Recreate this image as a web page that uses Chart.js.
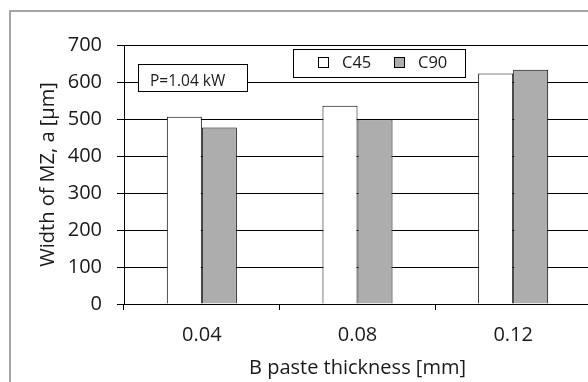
<!DOCTYPE html>
<html>
<head>
<meta charset="utf-8">
<script src="https://cdn.jsdelivr.net/npm/chart.js"></script>
<style>
  html, body { margin: 0; padding: 0; background: #fff; }
  #wrap { width: 588px; height: 382px; overflow: hidden; position: relative; }
  canvas { display: block; }
</style>
</head>
<body>
<div id="wrap">
  <canvas id="mzChart" width="600" height="382" style="width:600px;height:382px"></canvas>
</div>
<script>
const thickness = ['0.04', '0.08', '0.12'];
const widthC45 = [506, 536, 623];
const widthC90 = [477, 499, 633];
const seriesNames = ['C45', 'C90'];
const powerNote = 'P=1.04 kW';

const FONT = "'Open Sans', sans-serif";
const TEXT = '#1a1a1a';

// outer frame, legend box and the power note
const decorations = {
  id: 'decorations',
  afterDraw(chart) {
    const ctx = chart.ctx;
    ctx.save();
    ctx.strokeStyle = '#888';
    ctx.lineWidth = 1.5;
    ctx.beginPath();
    ctx.moveTo(10, 390);
    ctx.lineTo(10, 11);
    ctx.lineTo(610, 11);
    ctx.stroke();

    ctx.fillStyle = '#fff';
    ctx.strokeStyle = '#000';
    ctx.lineWidth = 1;
    // note box
    ctx.fillRect(138, 64, 109, 27);
    ctx.strokeRect(138.5, 64.5, 109, 27);
    ctx.fillStyle = TEXT;
    ctx.font = '15.5px ' + FONT;
    ctx.textBaseline = 'alphabetic';
    ctx.fillText(powerNote, 150, 86);

    // legend box
    ctx.fillStyle = '#fff';
    ctx.fillRect(293, 49, 172, 28);
    ctx.strokeRect(293.5, 49.5, 172, 28);
    const items = chart.data.datasets;
    const xs = [318, 394];
    items.forEach((ds, i) => {
      ctx.fillStyle = ds.backgroundColor;
      ctx.fillRect(xs[i] + 0.5, 57.5, 10, 10);
      ctx.strokeStyle = '#000';
      ctx.strokeRect(xs[i] + 0.5, 57.5, 10, 10);
      ctx.fillStyle = TEXT;
      ctx.font = '16.5px ' + FONT;
      ctx.fillText(ds.label, xs[i] + 24, 68);
    });
    ctx.restore();
  }
};

new Chart(document.getElementById('mzChart'), {
  type: 'bar',
  data: {
    labels: thickness,
    datasets: [
      {
        label: seriesNames[0],
        data: widthC45,
        backgroundColor: '#ffffff',
        borderColor: '#000',
        borderWidth: 1
      },
      {
        label: seriesNames[1],
        data: widthC90,
        backgroundColor: '#adadad',
        borderColor: '#000',
        borderWidth: 1
      }
    ]
  },
  options: {
    responsive: false,
    animation: false,
    layout: { padding: { left: 10, top: 45, right: 9, bottom: 0 } },
    datasets: {
      bar: { categoryPercentage: 0.45, barPercentage: 1.0 }
    },
    plugins: {
      legend: { display: false },
      tooltip: { enabled: false }
    },
    scales: {
      x: {
        offset: true,
        grid: {
          offset: true,
          drawOnChartArea: false,
          color: '#000',
          tickLength: 6
        },
        border: { color: '#000', width: 1 },
        ticks: {
          color: TEXT,
          padding: 13,
          font: { family: FONT, size: 20 }
        },
        title: {
          display: true,
          text: 'B paste thickness [mm]',
          color: TEXT,
          font: { family: FONT, size: 20 },
          padding: { top: 0, bottom: 2 }
        },
        afterFit(scale) { scale.height = 78; }
      },
      y: {
        min: 0,
        max: 700,
        ticks: {
          stepSize: 100,
          color: TEXT,
          padding: 15,
          font: { family: FONT, size: 20 }
        },
        grid: { color: '#000', tickLength: 7 },
        border: { color: '#000', width: 1 },
        title: {
          display: true,
          text: 'Width of MZ, a [µm]',
          color: TEXT,
          font: { family: FONT, size: 20 },
          padding: { top: 26, bottom: 0 }
        },
        afterFit(scale) { scale.width = 114; }
      }
    }
  },
  plugins: [decorations]
});
</script>
</body>
</html>
